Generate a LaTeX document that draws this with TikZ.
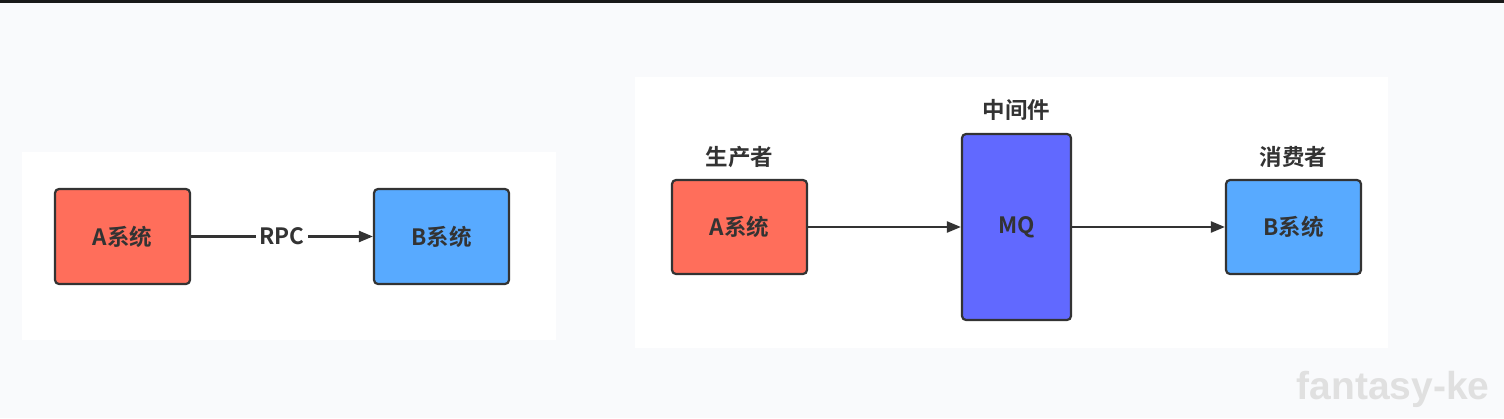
\documentclass[tikz,border=0pt]{standalone}
\usepackage{fontspec}
\setmainfont{Noto Sans CJK SC}[BoldFont={* Bold}]
\newfontfamily\wmfont{Liberation Sans}
\usetikzlibrary{arrows.meta}
\definecolor{bgc}{HTML}{F9FAFC}
\definecolor{redc}{HTML}{FF6E5B}
\definecolor{bluec}{HTML}{58AAFF}
\definecolor{mqc}{HTML}{6169FF}
\definecolor{linec}{HTML}{333333}
\definecolor{txtc}{HTML}{333333}
\tikzset{
  sysbox/.style={draw=linec, line width=2.2pt, rounded corners=4pt, inner sep=0pt,
    font=\fontsize{22.5}{26}\selectfont\bfseries, text=txtc},
  lbl/.style={font=\fontsize{22.5}{26}\selectfont\bfseries, text=txtc, inner sep=1pt},
  conn/.style={draw=linec, line width=2.2pt, -{Triangle[length=14pt,width=11pt]}},
  panel/.style={fill=white, draw=none}
}
\begin{document}
\begin{tikzpicture}[x=1pt,y=-1pt]
\useasboundingbox (0,0) rectangle (1504,418);
\fill[bgc] (0,0) rectangle (1504,418);
\fill[black!90] (0,0) rectangle (1504,3);
% panels
\path[panel] (22,152) rectangle (556,340);
\path[panel] (635,77) rectangle (1388,348);
% left diagram
\node[sysbox, fill=redc, minimum width=135pt, minimum height=95pt] (la) at (122.5,236.5) {A系统};
\node[sysbox, fill=bluec, minimum width=135pt, minimum height=95pt] (lb) at (441.5,236.5) {B系统};
\draw[conn] (la.east) -- node[lbl, fill=white, inner xsep=3pt] (rpc) {RPC} (lb.west);
% right diagram
\node[sysbox, fill=redc, minimum width=135pt, minimum height=94pt] (ra) at (739.5,227) {A系统};
\node[sysbox, fill=mqc, minimum width=109pt, minimum height=186pt] (mq) at (1016.5,227) {MQ};
\node[sysbox, fill=bluec, minimum width=135pt, minimum height=94pt] (rb) at (1293.5,227) {B系统};
\node[lbl] (pl) at (739.5,157) {生产者};
\node[lbl] (ml) at (1016.5,110) {中间件};
\node[lbl] (cl) at (1293.5,157) {消费者};
\draw[conn] (ra.east) -- (mq.west);
\draw[conn] (mq.east) -- (rb.west);
% watermark
\node[font=\wmfont\bfseries\fontsize{39}{41}\selectfont, text=black!12, inner sep=0pt] (wm) at (1393,389) {fantasy-ke};
\end{tikzpicture}
\end{document}
